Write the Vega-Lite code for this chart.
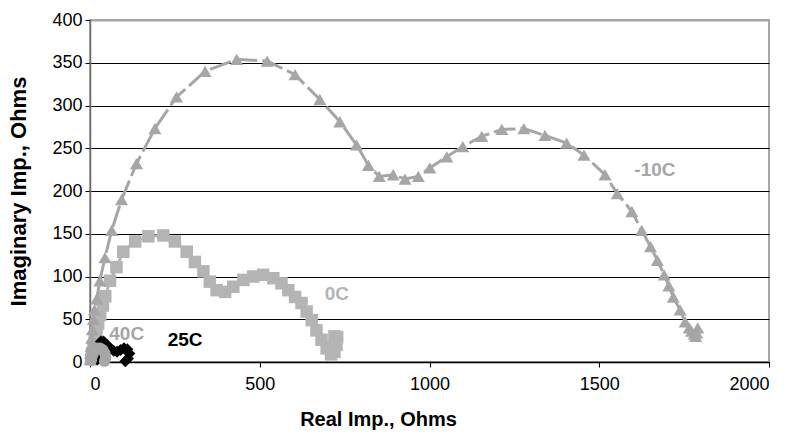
{
  "$schema": "https://vega.github.io/schema/vega-lite/v6.json",
  "width": 679,
  "height": 342,
  "autosize": {"type": "none"},
  "padding": {"left": 90, "top": 20, "right": 23, "bottom": 73},
  "background": "white",
  "config": {
    "font": "Liberation Sans",
    "view": {"stroke": "#A6A6A6", "strokeWidth": 2},
    "axis": {
      "labelFont": "Liberation Sans",
      "labelFontSize": 18,
      "labelColor": "#000000",
      "titleFont": "Liberation Sans",
      "titleFontWeight": "bold",
      "titleColor": "#000000",
      "tickColor": "#000000",
      "tickSize": 5,
      "tickWidth": 1
    }
  },
  "datasets": {
    "series": [
      {"s": "0C", "i": 1, "x": 3, "y": 3},
      {"s": "0C", "i": 2, "x": 6, "y": 10},
      {"s": "0C", "i": 3, "x": 10, "y": 18},
      {"s": "0C", "i": 4, "x": 14, "y": 26},
      {"s": "0C", "i": 5, "x": 19, "y": 35},
      {"s": "0C", "i": 6, "x": 24, "y": 45},
      {"s": "0C", "i": 7, "x": 30, "y": 55},
      {"s": "0C", "i": 8, "x": 38, "y": 66},
      {"s": "0C", "i": 9, "x": 45, "y": 77},
      {"s": "0C", "i": 10, "x": 59, "y": 95},
      {"s": "0C", "i": 11, "x": 78, "y": 111},
      {"s": "0C", "i": 12, "x": 98, "y": 129},
      {"s": "0C", "i": 13, "x": 133, "y": 141},
      {"s": "0C", "i": 14, "x": 172, "y": 147},
      {"s": "0C", "i": 15, "x": 216, "y": 148},
      {"s": "0C", "i": 16, "x": 250, "y": 141},
      {"s": "0C", "i": 17, "x": 285, "y": 129},
      {"s": "0C", "i": 18, "x": 309, "y": 117},
      {"s": "0C", "i": 19, "x": 334, "y": 106},
      {"s": "0C", "i": 20, "x": 353, "y": 94},
      {"s": "0C", "i": 21, "x": 373, "y": 84},
      {"s": "0C", "i": 22, "x": 398, "y": 82},
      {"s": "0C", "i": 23, "x": 422, "y": 88},
      {"s": "0C", "i": 24, "x": 452, "y": 96},
      {"s": "0C", "i": 25, "x": 481, "y": 100},
      {"s": "0C", "i": 26, "x": 510, "y": 102},
      {"s": "0C", "i": 27, "x": 540, "y": 98},
      {"s": "0C", "i": 28, "x": 564, "y": 92},
      {"s": "0C", "i": 29, "x": 584, "y": 84},
      {"s": "0C", "i": 30, "x": 604, "y": 76},
      {"s": "0C", "i": 31, "x": 623, "y": 69},
      {"s": "0C", "i": 32, "x": 638, "y": 59},
      {"s": "0C", "i": 33, "x": 653, "y": 49},
      {"s": "0C", "i": 34, "x": 667, "y": 37},
      {"s": "0C", "i": 35, "x": 682, "y": 26},
      {"s": "0C", "i": 36, "x": 697, "y": 16},
      {"s": "0C", "i": 37, "x": 710, "y": 9},
      {"s": "0C", "i": 38, "x": 720, "y": 12},
      {"s": "0C", "i": 39, "x": 726, "y": 20},
      {"s": "0C", "i": 40, "x": 728, "y": 29},
      {"s": "0C", "i": 41, "x": 720, "y": 30},
      {"s": "-10C", "i": 1, "x": 1, "y": 3},
      {"s": "-10C", "i": 2, "x": 2, "y": 10},
      {"s": "-10C", "i": 3, "x": 3, "y": 18},
      {"s": "-10C", "i": 4, "x": 5, "y": 28},
      {"s": "-10C", "i": 5, "x": 7, "y": 38},
      {"s": "-10C", "i": 6, "x": 10, "y": 50},
      {"s": "-10C", "i": 7, "x": 13, "y": 61},
      {"s": "-10C", "i": 8, "x": 20, "y": 74},
      {"s": "-10C", "i": 9, "x": 29, "y": 95},
      {"s": "-10C", "i": 10, "x": 44, "y": 122},
      {"s": "-10C", "i": 11, "x": 64, "y": 154},
      {"s": "-10C", "i": 12, "x": 93, "y": 190},
      {"s": "-10C", "i": 13, "x": 137, "y": 232},
      {"s": "-10C", "i": 14, "x": 191, "y": 273},
      {"s": "-10C", "i": 15, "x": 255, "y": 310},
      {"s": "-10C", "i": 16, "x": 339, "y": 340},
      {"s": "-10C", "i": 17, "x": 432, "y": 354},
      {"s": "-10C", "i": 18, "x": 522, "y": 352},
      {"s": "-10C", "i": 19, "x": 604, "y": 336},
      {"s": "-10C", "i": 20, "x": 677, "y": 307},
      {"s": "-10C", "i": 21, "x": 736, "y": 281},
      {"s": "-10C", "i": 22, "x": 785, "y": 254},
      {"s": "-10C", "i": 23, "x": 820, "y": 230},
      {"s": "-10C", "i": 24, "x": 852, "y": 217},
      {"s": "-10C", "i": 25, "x": 893, "y": 219},
      {"s": "-10C", "i": 26, "x": 928, "y": 214},
      {"s": "-10C", "i": 27, "x": 967, "y": 217},
      {"s": "-10C", "i": 28, "x": 1001, "y": 227},
      {"s": "-10C", "i": 29, "x": 1051, "y": 240},
      {"s": "-10C", "i": 30, "x": 1098, "y": 252},
      {"s": "-10C", "i": 31, "x": 1154, "y": 264},
      {"s": "-10C", "i": 32, "x": 1213, "y": 272},
      {"s": "-10C", "i": 33, "x": 1278, "y": 273},
      {"s": "-10C", "i": 34, "x": 1340, "y": 265},
      {"s": "-10C", "i": 35, "x": 1404, "y": 256},
      {"s": "-10C", "i": 36, "x": 1455, "y": 242},
      {"s": "-10C", "i": 37, "x": 1517, "y": 219},
      {"s": "-10C", "i": 38, "x": 1553, "y": 197},
      {"s": "-10C", "i": 39, "x": 1596, "y": 176},
      {"s": "-10C", "i": 40, "x": 1625, "y": 154},
      {"s": "-10C", "i": 41, "x": 1651, "y": 135},
      {"s": "-10C", "i": 42, "x": 1671, "y": 119},
      {"s": "-10C", "i": 43, "x": 1691, "y": 102},
      {"s": "-10C", "i": 44, "x": 1705, "y": 89},
      {"s": "-10C", "i": 45, "x": 1718, "y": 76},
      {"s": "-10C", "i": 46, "x": 1738, "y": 61},
      {"s": "-10C", "i": 47, "x": 1753, "y": 47},
      {"s": "-10C", "i": 48, "x": 1765, "y": 40},
      {"s": "-10C", "i": 49, "x": 1772, "y": 36},
      {"s": "-10C", "i": 50, "x": 1780, "y": 33},
      {"s": "-10C", "i": 51, "x": 1787, "y": 34},
      {"s": "-10C", "i": 52, "x": 1790, "y": 40},
      {"s": "-10C", "i": 53, "x": 1784, "y": 30},
      {"s": "25C", "i": 1, "x": 22, "y": 3},
      {"s": "25C", "i": 2, "x": 25, "y": 10},
      {"s": "25C", "i": 3, "x": 28, "y": 18},
      {"s": "25C", "i": 4, "x": 32, "y": 24},
      {"s": "25C", "i": 5, "x": 40, "y": 24},
      {"s": "25C", "i": 6, "x": 50, "y": 20},
      {"s": "25C", "i": 7, "x": 60, "y": 16},
      {"s": "25C", "i": 8, "x": 70, "y": 13},
      {"s": "25C", "i": 9, "x": 80, "y": 12},
      {"s": "25C", "i": 10, "x": 90, "y": 14},
      {"s": "25C", "i": 11, "x": 100, "y": 16},
      {"s": "25C", "i": 12, "x": 110, "y": 15},
      {"s": "25C", "i": 13, "x": 116, "y": 10},
      {"s": "25C", "i": 14, "x": 112, "y": 4},
      {"s": "25C", "i": 15, "x": 104, "y": 1},
      {"s": "40C", "i": 1, "x": 4, "y": 2},
      {"s": "40C", "i": 2, "x": 8, "y": 8},
      {"s": "40C", "i": 3, "x": 14, "y": 13},
      {"s": "40C", "i": 4, "x": 22, "y": 16},
      {"s": "40C", "i": 5, "x": 30, "y": 16},
      {"s": "40C", "i": 6, "x": 38, "y": 14},
      {"s": "40C", "i": 7, "x": 44, "y": 10},
      {"s": "40C", "i": 8, "x": 46, "y": 5},
      {"s": "40C", "i": 9, "x": 43, "y": 1}
    ],
    "labels": [
      {"s": "-10C", "x": 1664, "y": 225},
      {"s": "0C", "x": 727, "y": 80},
      {"s": "40C", "x": 108, "y": 33},
      {"s": "25C", "x": 280, "y": 26}
    ]
  },
  "layer": [
    {
      "data": {"name": "series"},
      "mark": {"type": "line", "strokeWidth": 3},
      "encoding": {
        "x": {"field": "x", "type": "quantitative", "scale": {"domain": [0, 2000], "nice": false},
          "axis": {"title": "Real Imp., Ohms", "titleFontSize": 20, "format": "d", "values": [0, 500, 1000, 1500, 2000], "grid": false, "domainColor": "#000000", "domainWidth": 1.5, "labelPadding": 8, "titlePadding": 16, "titleX": 288, "titleAlign": "center", "titleAnchor": null}},
        "y": {"field": "y", "type": "quantitative", "scale": {"domain": [0, 400], "nice": false},
          "axis": {"title": "Imaginary Imp., Ohms", "titleFontSize": 22, "values": [0, 50, 100, 150, 200, 250, 300, 350, 400], "grid": true,
            "gridColor": {"condition": {"test": "datum.value == 400", "value": "#A6A6A6"}, "value": "#000000"},
            "gridWidth": {"condition": {"test": "datum.value == 400", "value": 2}, "value": 1},
            "domainColor": "#6E6E6E", "domainWidth": 1.5, "labelPadding": 3, "titlePadding": 21}},
        "color": {"field": "s", "type": "nominal", "scale": {"domain": ["-10C", "0C", "25C", "40C"], "range": ["#A6A6A6", "#B4B4B4", "#000000", "#A6A6A6"]}, "legend": null},
        "strokeDash": {"field": "s", "type": "nominal", "scale": {"domain": ["-10C", "0C", "25C", "40C"], "range": [[22, 5], [1, 0], [1, 0], [1, 0]]}, "legend": null},
        "detail": {"field": "s"},
        "order": {"field": "i"}
      }
    },
    {
      "data": {"name": "series"},
      "mark": {"type": "point", "filled": true, "opacity": 1},
      "encoding": {
        "x": {"field": "x", "type": "quantitative"},
        "y": {"field": "y", "type": "quantitative"},
        "color": {"field": "s", "type": "nominal", "legend": null},
        "shape": {"field": "s", "type": "nominal", "scale": {"domain": ["-10C", "0C", "25C", "40C"], "range": ["triangle-up", "square", "diamond", "circle"]}, "legend": null},
        "size": {"field": "s", "type": "nominal", "scale": {"domain": ["-10C", "0C", "25C", "40C"], "range": [170, 130, 180, 120]}, "legend": null}
      }
    },
    {
      "data": {"name": "labels"},
      "mark": {"type": "text", "fontSize": 19, "fontWeight": "bold", "font": "Liberation Sans", "align": "center", "baseline": "middle"},
      "encoding": {
        "x": {"field": "x", "type": "quantitative"},
        "y": {"field": "y", "type": "quantitative"},
        "text": {"field": "s"},
        "color": {"field": "s", "type": "nominal", "legend": null}
      }
    }
  ]
}
